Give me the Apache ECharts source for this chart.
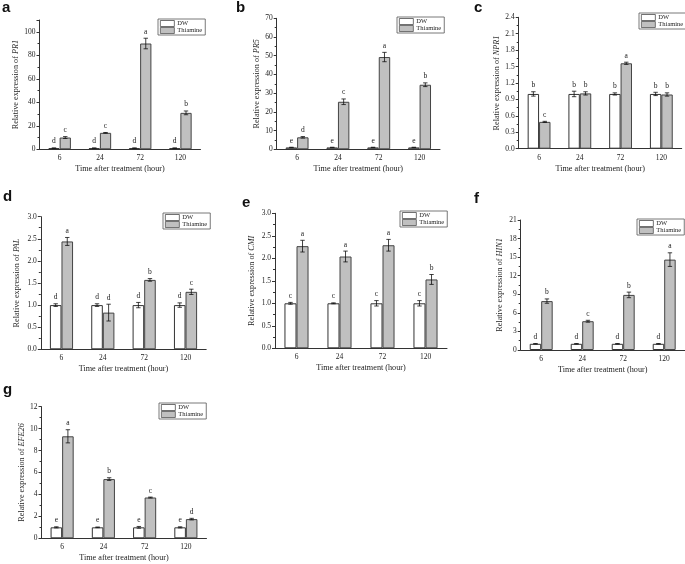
<!DOCTYPE html>
<html><head><meta charset="utf-8">
<script src="https://cdn.jsdelivr.net/npm/echarts@6/dist/echarts.min.js"></script>
<style>html,body{margin:0;padding:0;background:#fff}#c{width:685px;height:564px}</style>
</head><body><div id="c"></div>
<script>
// ---------- data ----------
const categories = ['6', '24', '72', '120'];
const seriesNames = ['DW', 'Thiamine'];
const genes = ['PR1', 'PR5', 'NPR1', 'PAL', 'CMI', 'HIN1', 'EFE26'];
const panelLetters = ['a', 'b', 'c', 'd', 'e', 'f', 'g'];
const yMax = [110, 70, 2.4, 3, 3, 21, 12];
const yInterval = [20, 10, 0.3, 0.5, 0.5, 3, 2];
const yDecimals = [0, 0, 1, 1, 1, 0, 0];

// PR1 (a)
const pr1DW = [1, 1, 1, 1];
const pr1DWErr = [0.15, 0.15, 0.15, 0.15];
const pr1DWSig = ['d', 'd', 'd', 'd'];
const pr1Th = [10, 14, 90, 31];
const pr1ThErr = [0.8, 0.3, 4.5, 1.6];
const pr1ThSig = ['c', 'c', 'a', 'b'];
// PR5 (b)
const pr5DW = [1, 1, 1, 1];
const pr5DWErr = [0.1, 0.1, 0.1, 0.1];
const pr5DWSig = ['e', 'e', 'e', 'e'];
const pr5Th = [6.4, 25.4, 49.3, 34.5];
const pr5ThErr = [0.4, 1.5, 2.5, 1.0];
const pr5ThSig = ['d', 'c', 'a', 'b'];
// NPR1 (c)
const npr1DW = [1, 1, 1, 1];
const npr1DWErr = [0.04, 0.05, 0.02, 0.03];
const npr1DWSig = ['b', 'b', 'b', 'b'];
const npr1Th = [0.49, 1.01, 1.56, 0.99];
const npr1ThErr = [0.01, 0.03, 0.02, 0.03];
const npr1ThSig = ['c', 'b', 'a', 'b'];
// PAL (d)
const palDW = [1, 1, 1, 1];
const palDWErr = [0.03, 0.03, 0.06, 0.05];
const palDWSig = ['d', 'd', 'd', 'd'];
const palTh = [2.44, 0.83, 1.57, 1.3];
const palThErr = [0.09, 0.19, 0.03, 0.06];
const palThSig = ['a', 'd', 'b', 'c'];
// CMI (e)
const cmiDW = [1, 1, 1, 1];
const cmiDWErr = [0.02, 0.01, 0.06, 0.06];
const cmiDWSig = ['c', 'c', 'c', 'c'];
const cmiTh = [2.27, 2.04, 2.29, 1.53];
const cmiThErr = [0.13, 0.12, 0.13, 0.11];
const cmiThSig = ['a', 'a', 'a', 'b'];
// HIN1 (f)
const hin1DW = [1, 1, 1, 1];
const hin1DWErr = [0.04, 0.04, 0.04, 0.04];
const hin1DWSig = ['d', 'd', 'd', 'd'];
const hin1Th = [7.9, 4.65, 8.9, 14.6];
const hin1ThErr = [0.35, 0.15, 0.45, 1.1];
const hin1ThSig = ['b', 'c', 'b', 'a'];
// EFE26 (g)
const efeDW = [1, 1, 1, 1];
const efeDWErr = [0.05, 0.03, 0.08, 0.05];
const efeDWSig = ['e', 'e', 'e', 'e'];
const efeTh = [9.3, 5.4, 3.72, 1.75];
const efeThErr = [0.6, 0.12, 0.04, 0.07];
const efeThSig = ['a', 'b', 'c', 'd'];

const panelData = [
  [pr1DW, pr1DWErr, pr1DWSig, pr1Th, pr1ThErr, pr1ThSig],
  [pr5DW, pr5DWErr, pr5DWSig, pr5Th, pr5ThErr, pr5ThSig],
  [npr1DW, npr1DWErr, npr1DWSig, npr1Th, npr1ThErr, npr1ThSig],
  [palDW, palDWErr, palDWSig, palTh, palThErr, palThSig],
  [cmiDW, cmiDWErr, cmiDWSig, cmiTh, cmiThErr, cmiThSig],
  [hin1DW, hin1DWErr, hin1DWSig, hin1Th, hin1ThErr, hin1ThSig],
  [efeDW, efeDWErr, efeDWSig, efeTh, efeThErr, efeThSig]
];

// ---------- layout ----------
const gridBoxes = [
  [39.5, 20, 161, 129.3],
  [276.7, 18.3, 163.3, 131],
  [518.7, 17.3, 163, 131.4],
  [40.8, 216.7, 165.4, 132.6],
  [275, 213.3, 172, 135],
  [520.7, 220, 164, 130],
  [41.5, 406.7, 165, 131.6]
];
const legendPos = [[158, 19], [397, 17], [639, 13], [163, 213], [400, 211], [637, 219], [159, 403]];
const yNameGap = [18, 15.5, 17.5, 19.5, 19.5, 17, 15.5];
const letterPos = [[2, 0], [236, 0], [474, 0], [3, 189], [242, 195], [474, 191], [3, 382]];

const SERIF = '"Liberation Serif", "Times New Roman", serif';
const BAR_FRAC = 0.28;
const AXIS_COL = '#333';

function errRender(means, errs, sigs, sign) {
  return function (params, api) {
    const i = params.dataIndex;
    const x = api.value(0);
    const m = means[i], e = errs[i];
    const hi = api.coord([x, m + e]);
    const lo = api.coord([x, m - e]);
    const band = api.size([1, 0])[0];
    const cx = hi[0] + sign * band * BAR_FRAC / 2;
    const cap = 2.2;
    const st = { stroke: '#111', lineWidth: 0.8 };
    return {
      type: 'group',
      children: [
        { type: 'line', shape: { x1: cx, y1: hi[1], x2: cx, y2: lo[1] }, style: st },
        { type: 'line', shape: { x1: cx - cap, y1: hi[1], x2: cx + cap, y2: hi[1] }, style: st },
        { type: 'line', shape: { x1: cx - cap, y1: lo[1], x2: cx + cap, y2: lo[1] }, style: st },
        { type: 'text', x: cx, y: hi[1] - 2.5,
          style: { text: sigs[i], align: 'center', verticalAlign: 'bottom',
                   font: '7.5px ' + SERIF, fill: '#222' } }
      ]
    };
  };
}

const grid = [], xAxis = [], yAxis = [], series = [], legend = [], title = [];
for (let p = 0; p < 7; p++) {
  const g = gridBoxes[p];
  grid.push({ left: g[0], top: g[1], width: g[2], height: g[3], containLabel: false, outerBoundsMode: 'none' });
  xAxis.push({
    type: 'category', gridIndex: p, data: categories,
    name: 'Time after treatment (hour)', nameLocation: 'middle', nameGap: 16,
    nameTextStyle: { fontFamily: SERIF, fontSize: 8.2, color: '#222' },
    axisLine: { lineStyle: { color: AXIS_COL, width: 1 } },
    axisTick: { alignWithLabel: true, length: 3, lineStyle: { color: AXIS_COL } },
    axisLabel: { fontFamily: SERIF, fontSize: 7.5, color: '#222', margin: 5 }
  });
  yAxis.push({
    type: 'value', gridIndex: p, min: 0, max: yMax[p], interval: yInterval[p],
    name: 'Relative expression of {i|' + genes[p] + '}',
    nameLocation: 'middle', nameGap: yNameGap[p], nameRotate: 90,
    nameTextStyle: { fontFamily: SERIF, fontSize: 8.2, color: '#222',
      rich: { i: { fontFamily: SERIF, fontSize: 8.2, fontStyle: 'italic', color: '#222' } } },
    axisLine: { show: true, lineStyle: { color: AXIS_COL, width: 1 } },
    axisTick: { show: true, length: 3, lineStyle: { color: AXIS_COL } },
    minorTick: { show: true, splitNumber: 2, length: 2, lineStyle: { color: AXIS_COL } },
    splitLine: { show: false },
    axisLabel: { fontFamily: SERIF, fontSize: 7.5, color: '#222', margin: 4,
      showMaxLabel: (yMax[p] / yInterval[p]) % 1 < 1e-6 || (yMax[p] / yInterval[p]) % 1 > 1 - 1e-6,
      formatter: (v) => v.toFixed(yDecimals[p]) }
  });
  const d = panelData[p];
  series.push({
    type: 'bar', name: seriesNames[0], xAxisIndex: p, yAxisIndex: p, data: d[0],
    barWidth: (BAR_FRAC * 100) + '%', barGap: '0%',
    itemStyle: { color: '#ffffff', borderColor: '#333', borderWidth: 1 }
  });
  series.push({
    type: 'bar', name: seriesNames[1], xAxisIndex: p, yAxisIndex: p, data: d[3],
    barWidth: (BAR_FRAC * 100) + '%', barGap: '0%',
    itemStyle: { color: '#c0c0c0', borderColor: '#444', borderWidth: 1 }
  });
  series.push({
    type: 'custom', xAxisIndex: p, yAxisIndex: p, z: 5, clip: false,
    data: d[0].map((v, i) => [i, v]), renderItem: errRender(d[0], d[1], d[2], -1)
  });
  series.push({
    type: 'custom', xAxisIndex: p, yAxisIndex: p, z: 5, clip: false,
    data: d[3].map((v, i) => [i, v]), renderItem: errRender(d[3], d[4], d[5], 1)
  });
  legend.push({
    data: [
      { name: seriesNames[0], itemStyle: { color: '#ffffff', borderColor: '#333', borderWidth: 0.7 } },
      { name: seriesNames[1], itemStyle: { color: '#c0c0c0', borderColor: '#444', borderWidth: 0.7 } }
    ],
    orient: 'vertical', left: legendPos[p][0], top: legendPos[p][1],
    itemWidth: 14, itemHeight: 6, itemGap: 0, padding: [1, 3, 1, 2],
    borderColor: '#555', borderWidth: 0.8, icon: 'rect', selectedMode: false,
    textStyle: { fontFamily: SERIF, fontSize: 6.5, color: '#222', padding: [0, 0, 0, -2] }
  });
  title.push({
    text: panelLetters[p], left: letterPos[p][0], top: letterPos[p][1], padding: 0,
    textStyle: { fontFamily: '"Liberation Sans", Arial, sans-serif', fontSize: 15, fontWeight: 'bold', color: '#111' }
  });
}

const chart = echarts.init(document.getElementById('c'), null, { renderer: 'canvas' });
chart.setOption({ animation: false, backgroundColor: '#fff', title, grid, xAxis, yAxis, legend, series });
</script>
</body></html>
